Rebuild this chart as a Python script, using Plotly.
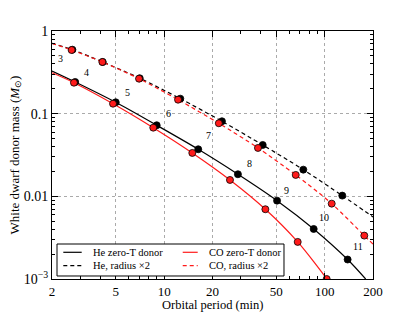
import math
import plotly.graph_objects as go

# ---- data ----
he_dot_p = [2.79, 4.99, 8.98, 16.3, 28.8, 50.5, 85.4, 139.0]
he_dot_m = [0.2416, 0.1373, 0.0724, 0.0371, 0.0185, 0.00887, 0.00403, 0.00172]
co_dot_p = [2.74, 4.80, 8.55, 14.97, 25.7, 42.7, 67.9, 102.9]
co_dot_m = [0.237, 0.132, 0.0677, 0.0335, 0.01578, 0.00698, 0.00281, 0.00100]
he2_dot_p = [2.68, 4.14, 7.04, 12.6, 22.9, 41.1, 73.6, 128.7]
he2_dot_m = [0.594, 0.422, 0.268, 0.1519, 0.0809, 0.0418, 0.02103, 0.0102]
co2_dot_p = [2.65, 4.12, 6.97, 12.2, 21.9, 38.4, 66.0, 110.6, 176.5]
co2_dot_m = [0.589, 0.422, 0.265, 0.1476, 0.0765, 0.0385, 0.01815, 0.00816, 0.00335]

# curve end points
he_start, he_end = (2.0, 0.328), (180.0, 0.00100)
co_start, co_end = (2.0, 0.313), (106.0, 0.00090)
he2_start, he2_end = (2.0, 0.710), (200.0, 0.00564)
co2_start, co2_end = (2.0, 0.710), (200.0, 0.00264)

label_text = ["3", "4", "5", "6", "7", "8", "9", "10", "11"]
label_p = [2.25, 3.27, 5.87, 10.6, 18.75, 33.8, 58.0, 99.0, 160.6]
label_m = [0.459, 0.319, 0.1795, 0.1011, 0.0537, 0.02513, 0.01172, 0.00559, 0.00247]

legend_names = ["He zero-T donor", "He, radius \u00d72", "CO zero-T donor", "CO, radius \u00d72"]
x_title = "Orbital period (min)"
y_title = "White dwarf donor mass (<i>M</i><sub>\u2299</sub>)"

x_tickvals = [2, 5, 10, 20, 50, 100, 200]
x_ticktext = ["2", "5", "10", "20", "50", "100", "200"]
x_minor = [3, 4, 6, 7, 8, 9, 30, 40, 60, 70, 80, 90]
y_tickvals = [0.001, 0.01, 0.1, 1]
y_ticktext = ["10<sup>\u22123</sup>", "0.01", "0.1", "1"]
y_minor = [m * 10.0 ** e for e in (-3, -2, -1) for m in range(2, 10)]

SERIF = "Liberation Serif, Times New Roman, serif"
RED = "#ff1a1a"
DASH = "4px,3px"

fig = go.Figure()

def curve(name, start, px, py, end, color, dash):
    fig.add_trace(go.Scatter(
        x=[start[0]] + px + [end[0]], y=[start[1]] + py + [end[1]],
        mode="lines", name=name, showlegend=False,
        line=dict(color=color, width=1.2, dash=dash, shape="spline", smoothing=0.8),
        hoverinfo="skip"))

curve(legend_names[0], he_start, he_dot_p, he_dot_m, he_end, "black", "solid")
curve(legend_names[2], co_start, co_dot_p, co_dot_m, co_end, RED, "solid")
curve(legend_names[1], he2_start, he2_dot_p, he2_dot_m, he2_end, "black", DASH)
curve(legend_names[3], co2_start, co2_dot_p, co2_dot_m, co2_end, RED, DASH)

def dots(px, py, color):
    fig.add_trace(go.Scatter(
        x=px, y=py, mode="markers", showlegend=False, cliponaxis=True,
        marker=dict(color=color, size=7, line=dict(color="black", width=0.8))))

dots(he_dot_p, he_dot_m, "black")
dots(co_dot_p, co_dot_m, RED)
dots(he2_dot_p, he2_dot_m, "black")
dots(co2_dot_p, co2_dot_m, RED)

# number labels along the tracks (log axes -> annotation coords in log10)
for t, xp, ym in zip(label_text, label_p, label_m):
    fig.add_annotation(x=math.log10(xp), y=math.log10(ym), text=t, showarrow=False,
                       xref="x", yref="y", font=dict(family=SERIF, size=10, color="black"))

# ---- hand-drawn legend box (paper coordinates) ----
fig.add_shape(type="rect", xref="paper", yref="paper", x0=0.0156, x1=0.7227,
              y0=0.0121, y1=0.1411, fillcolor="white", line=dict(color="black", width=1),
              layer="above")
leg_rows = [0.1077, 0.0536]
leg_cols = [(0.0352, 0.0925, 0.1206), (0.4072, 0.4539, 0.4819)]
leg_styles = [("black", "solid"), ("black", DASH), (RED, "solid"), (RED, DASH)]
for i, name in enumerate(legend_names):
    c0, c1, ct = leg_cols[i // 2]
    yy = leg_rows[i % 2]
    col, dsh = leg_styles[i]
    fig.add_shape(type="line", xref="paper", yref="paper", x0=c0, x1=c1, y0=yy, y1=yy,
                  line=dict(color=col, width=1.2, dash=dsh), layer="above")
    fig.add_annotation(xref="paper", yref="paper", x=ct, y=yy, text=name, showarrow=False,
                       xanchor="left", yanchor="middle",
                       font=dict(family=SERIF, size=10.5, color="black"))

# x-axis title as a paper annotation just below the tick labels
fig.add_annotation(xref="paper", yref="paper", x=0.5, y=-0.106, text=x_title,
                   showarrow=False, xanchor="center", yanchor="middle",
                   font=dict(family=SERIF, size=12.5, color="black"))

axis_common = dict(
    showline=True, linecolor="black", linewidth=1, mirror="allticks",
    ticks="inside", ticklen=6, tickwidth=1, tickcolor="black",
    showgrid=True, gridcolor="#aaaaaa", gridwidth=0.8, griddash="dot",
    zeroline=False, automargin=False,
)

fig.update_xaxes(
    type="log", range=[math.log10(2), math.log10(200)],
    tickmode="array", tickvals=x_tickvals, ticktext=x_ticktext,
    tickfont=dict(family=SERIF, size=13, color="black"),
    minor=dict(tickmode="array", tickvals=x_minor, ticks="inside", ticklen=3,
               tickcolor="black", showgrid=False),
    **axis_common)
fig.update_yaxes(
    type="log", range=[-3, 0],
    tickmode="array", tickvals=y_tickvals, ticktext=y_ticktext,
    tickfont=dict(family=SERIF, size=14, color="black"),
    minor=dict(tickmode="array", tickvals=y_minor, ticks="inside", ticklen=3,
               tickcolor="black", showgrid=False),
    title=dict(text=y_title, font=dict(family=SERIF, size=13, color="black"), standoff=1),
    **axis_common)

fig.update_layout(
    width=415, height=312,
    margin=dict(l=52, r=42, t=31, b=33),
    paper_bgcolor="white", plot_bgcolor="white",
    font=dict(family=SERIF, color="black"),
    showlegend=False,
)

fig.write_html("out.html", config={"displayModeBar": False},
               post_script="document.body.style.margin='0';")
